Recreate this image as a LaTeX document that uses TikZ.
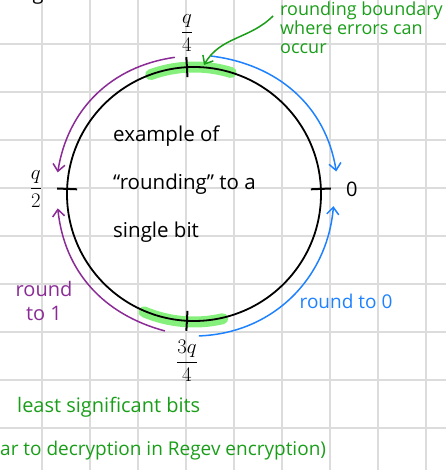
\documentclass[tikz,border=0pt]{standalone}
\usepackage{fontspec}
\setmainfont{Open Sans}
\usetikzlibrary{arrows.meta,positioning}

\definecolor{gridgray}{HTML}{DCDCDC}
\definecolor{markgreen}{HTML}{1A9E1A}
\definecolor{hlgreen}{HTML}{86F07C}
\definecolor{rpurple}{HTML}{8A2B96}
\definecolor{rblue}{HTML}{1E82FF}

\begin{document}
\begin{tikzpicture}[
        x=1pt, y=1pt,
        gridline/.style={gridgray, line width=1.2pt},
        hand/.style={font=\fontsize{19}{24}\selectfont, inner sep=0pt},
        frac/.style={font=\fontsize{20}{24}\selectfont, inner sep=0pt},
        tickmark/.style={line width=2pt},
        highlight/.style={hlgreen, line width=11pt, line cap=round},
        roundarrow/.style={line width=1.5pt, -{Straight Barb[length=7pt,width=12pt]}}
    ]
    \useasboundingbox (0,0) rectangle (446,470);
    \foreach \g in {42,90,...,426} {
        \draw[gridline] (\g,0) -- (\g,470);
        \draw[gridline] (0,\g) -- (446,\g);
    }

    % the circle of values mod q
    \coordinate (c) at (194,276);
    \draw[highlight] (c) ++(110:127) arc[start angle=110, end angle=73, radius=127];
    \draw[highlight] (c) ++(247:128) arc[start angle=247, end angle=283, radius=128];
    \draw[line width=1.8pt] (c) circle[radius=127];
    \foreach \a/\n in {2.3/zero, 93.2/qfour, 177.7/qtwo, 266.8/tqfour} {
        \path (c) ++(\a:127) coordinate (\n);
        \draw[tickmark] (c) ++(\a:117) -- ++(\a:20);
    }

    \node[frac, above=15pt of qfour] (lqfour) {$\displaystyle\frac{q}{4}$};
    \node[frac, left=25pt of qtwo] (lqtwo) {$\displaystyle\frac{q}{2}$};
    \node[frac, right=25pt of zero] (lzero) {0};
    \node[frac, below=19pt of tqfour] (ltqfour) {$\displaystyle\frac{3q}{4}$};

    \node[hand, font=\fontsize{20.5}{48}\selectfont, align=left, anchor=north west] (note)
        at (113,344) {example of\\“rounding” to a\\single bit};

    % rounding directions
    \path (c) ++(98:138) coordinate (p1) (c) ++(171:138) coordinate (p2);
    \path (c) ++(258:140) coordinate (p3) (c) ++(186:137) coordinate (p4);
    \path (c) ++(83:139) coordinate (b1) (c) ++(9:144) coordinate (b2);
    \path (c) ++(272:142) coordinate (b3) (c) ++(355:140) coordinate (b4);
    \draw[roundarrow, rpurple] (p1) to[out=188, in=81] (p2);
    \draw[roundarrow, rpurple] (p3) to[out=165, in=276] (p4);
    \draw[roundarrow, rblue] (b1) to[out=-7, in=99] (b2);
    \draw[roundarrow, rblue] (b3) to[out=2, in=265] (b4);

    \node[hand, font=\fontsize{20}{24}\selectfont, rpurple, align=center] (rone) at (44,169) {round\\to 1};
    \node[hand, rblue] (rzero) at (346,169) {round to 0};

    % notes in green
    \node[hand, font=\fontsize{18}{19}\selectfont, markgreen, align=left, anchor=north west] (bound)
        at (280,468) {rounding boundary\\where errors can\\occur};
    \coordinate (gstart) at (273,454);
    \coordinate (gtip) at (204,405);
    \draw[roundarrow, markgreen] (gstart) to[out=225, in=60] (gtip);

    \node[hand, font=\fontsize{20}{24}\selectfont, markgreen, anchor=west] (lsb) at (17,63) {least significant bits};
    \node[hand, markgreen, anchor=west] (regev) at (0,19) {ar to decryption in Regev encryption)};
    \node[hand, font=\fontsize{20}{24}\selectfont, anchor=base] (gfrag) at (38,470) {g};
\end{tikzpicture}
\end{document}
